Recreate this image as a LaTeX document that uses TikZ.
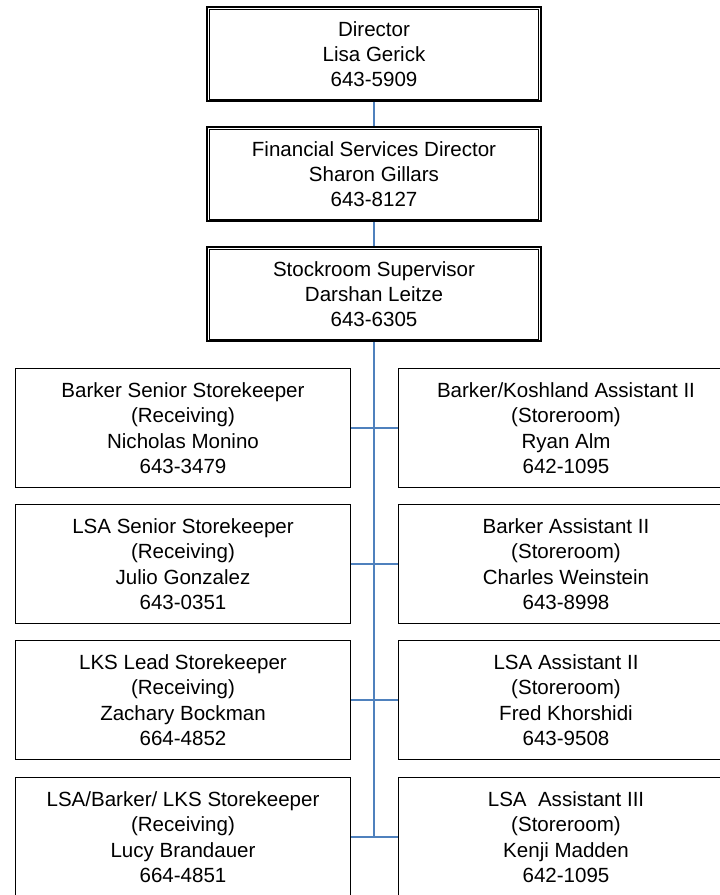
\documentclass[tikz,border=0pt]{standalone}
\usepackage{fontspec}
\setmainfont{Liberation Sans}
\definecolor{linkblue}{HTML}{4F81BD}

\tikzset{
	boxfont/.style={font=\fontsize{15.4pt}{19pt}\selectfont},
	headbox/.style={draw, line width=1.3pt, boxfont, align=center,
		minimum width=250pt, minimum height=71pt},
	staffbox/.style={draw, line width=1.1pt, boxfont, align=center,
		minimum width=251pt, minimum height=89pt},
	link/.style={draw=linkblue, line width=1.1pt}
}

\begin{document}
\begin{tikzpicture}[x=0.75pt,y=-0.75pt]
			\useasboundingbox (0,0) rectangle (719,895);
			% chain at the top
			\node [headbox] (dir) at (374,54) {Director\\Lisa Gerick\\643-5909};
			\node [headbox] (fin) at (374,174) {Financial Services Director\\Sharon Gillars\\643-8127};
			\node [headbox] (sup) at (374,294) {Stockroom Supervisor\\Darshan Leitze\\643-6305};
			\foreach \n in {dir,fin,sup}
				\draw [line width=0.6pt] ([shift={(2.4pt,-2.4pt)}]\n.north west) rectangle ([shift={(-2.4pt,2.4pt)}]\n.south east);
			% receiving side
			\node [staffbox] (rc1) at (183,428) {Barker Senior Storekeeper\\(Receiving)\\Nicholas Monino\\643-3479};
			\node [staffbox] (rc2) at (183,564) {LSA Senior Storekeeper\\(Receiving)\\Julio Gonzalez\\643-0351};
			\node [staffbox] (rc3) at (183,700) {LKS Lead Storekeeper\\(Receiving)\\Zachary Bockman\\664-4852};
			\node [staffbox] (rc4) at (183,837) {LSA/Barker/ LKS Storekeeper\\(Receiving)\\Lucy Brandauer\\664-4851};
			% storeroom side
			\node [staffbox] (st1) at (566,428) {Barker/Koshland Assistant II\\(Storeroom)\\Ryan Alm\\642-1095};
			\node [staffbox] (st2) at (566,564) {Barker Assistant II\\(Storeroom)\\Charles Weinstein\\643-8998};
			\node [staffbox] (st3) at (566,700) {LSA Assistant II\\(Storeroom)\\Fred Khorshidi\\643-9508};
			\node [staffbox] (st4) at (566,837) {LSA~ Assistant III\\(Storeroom)\\Kenji Madden\\642-1095};
			% lines
			\coordinate (trunk) at (sup.south |- rc4.east);
			\draw [link] (dir.south) -- (fin.north);
			\draw [link] (fin.south) -- (sup.north);
			\draw [link] (sup.south) -- (trunk);
			\foreach \i in {1,2,3,4}
				\draw [link] (rc\i.east) -- (st\i.west);
	 	\end{tikzpicture}
\end{document}
